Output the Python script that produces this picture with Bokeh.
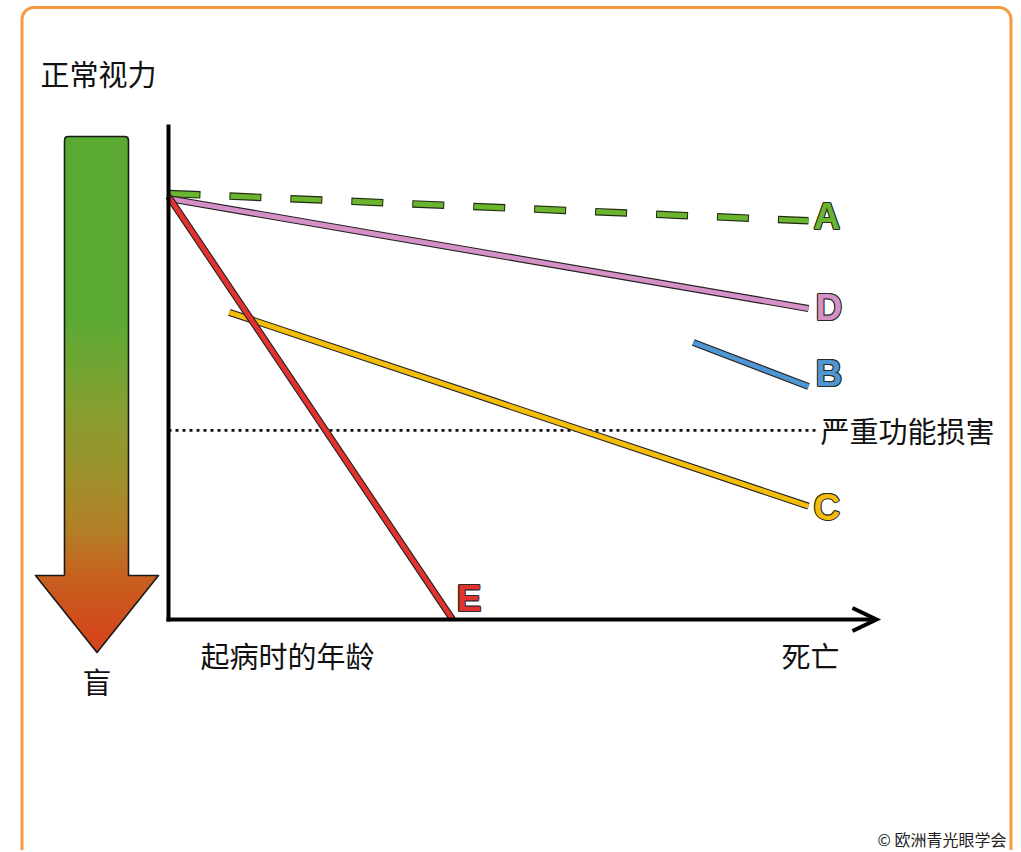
import numpy as np
from bokeh.plotting import figure
from bokeh.models import Range1d
from bokeh.core.properties import value
from bokeh.embed import file_html
from bokeh.resources import INLINE

# ---------------- data (x: 0 = onset, 100 = death; y: 0 = blind, 100 = normal vision)
series = ["A", "D", "B", "C", "E"]
x_start = [0.0, 0.0, 82.0, 9.5, 0.0]
y_start = [100.0, 98.8, 65.0, 72.1, 99.3]
x_end = [100.0, 100.0, 100.0, 100.0, 44.4]
y_end = [93.6, 73.0, 54.7, 26.6, 0.0]
series_colors = ["#6ab42e", "#d590c5", "#4e97d3", "#f4bd0a", "#e2312f"]
series_dash = ["dashed", "solid", "solid", "solid", "solid"]
severe_level = 44.4
severe_label = "严重功能损害"
x_start_label = "起病时的年龄"
x_end_label = "死亡"
top_label = "正常视力"
bottom_label = "盲"
credit = "© 欧洲青光眼学会"

# ---------------- layout helpers (screen px -> data units)
W, H = 1019, 850
OFF = 0
X0, Y0 = 168.0, 619.0
SX, SY = 6.4, 4.26


def dx(sx):
    return (sx - X0) / SX


def dy(sy):
    return (Y0 - sy) / SY


p = figure(width=W, height=H, x_range=Range1d(dx(OFF), dx(OFF + W)),
           y_range=Range1d(dy(OFF + H), dy(OFF)), output_backend="svg",
           toolbar_location=None, x_axis_location=None, y_axis_location=None,
           min_border=0, outline_line_color=None)
p.grid.visible = False

CJK = value("Noto Sans CJK SC")

# ---------------- orange rounded frame
r = 12.0
left, right, top, bottom = 21.5, 1010.5, 7.0, 900.0
pts = []
for cx, cy, a0, a1 in [(left + r, top + r, np.pi, 1.5 * np.pi),
                       (right - r, top + r, 1.5 * np.pi, 2 * np.pi)]:
    t = np.linspace(a0, a1, 12)
    pts += list(zip(cx + r * np.cos(t), cy + r * np.sin(t)))
fx = [left] + [q[0] for q in pts] + [right]
fy = [bottom] + [q[1] for q in pts] + [bottom]
p.line([dx(v) for v in fx], [dy(v) for v in fy], line_color="#f59a42", line_width=3)

# ---------------- gradient arrow
stops_y = [136, 320, 400, 470, 530, 575, 620, 652]
stops_c = ["#5aaa33", "#5aaa33", "#83a031", "#9c922c", "#b37f27", "#c7611f", "#d14d1c", "#d8431a"]


def hex2rgb(h):
    return np.array([int(h[i:i + 2], 16) for i in (1, 3, 5)], dtype=float)


stops_rgb = np.array([hex2rgb(c) for c in stops_c])


def color_at(yv):
    rgb = [np.interp(yv, stops_y, stops_rgb[:, k]) for k in range(3)]
    return "#%02x%02x%02x" % tuple(int(round(v)) for v in rgb)


sy_edges = np.arange(136, 576, 2.0)
p.quad(left=dx(64), right=dx(128),
       top=[dy(v) for v in sy_edges],
       bottom=[dy(min(v + 2.6, 575.5)) for v in sy_edges],
       fill_color=[color_at(v + 1) for v in sy_edges], line_color=None)

hx, hy, hc = [], [], []
tip_y, base_y, cxm, half = 652.0, 575.0, 96.5, 61.5
for ya in np.arange(base_y, tip_y, 2.0):
    yb = min(ya + 2.6, tip_y)
    wa = half * (tip_y - ya) / (tip_y - base_y)
    wb = half * (tip_y - yb) / (tip_y - base_y)
    hx.append([dx(cxm - wa), dx(cxm + wa), dx(cxm + wb), dx(cxm - wb)])
    hy.append([dy(ya), dy(ya), dy(yb), dy(yb)])
    hc.append(color_at(ya + 1))
p.patches(hx, hy, fill_color=hc, line_color=None)

ox = [64, 64, 64.6, 66, 68, 124, 126, 127.4, 128, 128, 158, 96.5, 35, 64]
oy = [575, 140, 137.6, 136.4, 136, 136, 136.4, 137.6, 140, 575, 575, 652, 575, 575]
p.line([dx(v) for v in ox], [dy(v) for v in oy], line_color="#1a1a1a", line_width=1.6,
       line_join="round")

# ---------------- severe impairment dotted level
p.line([0, dx(815)], [severe_level, severe_level], line_color="#111111", line_width=2.6,
       line_dash="3 4")

# ---------------- series lines with dark outline
for i, name in enumerate(series):
    xs = [x_start[i], x_end[i]]
    ys = [y_start[i], y_end[i]]
    if series_dash[i] == "dashed":
        p.line(xs, ys, line_color="#1f2a12", line_width=7.5, line_dash="32 29")
        p.line(xs, ys, line_color=series_colors[i], line_width=5.2, line_dash="30 31",
               line_dash_offset=-1)
    else:
        p.line(xs, ys, line_color="#222222", line_width=7.0)
        p.line(xs, ys, line_color=series_colors[i], line_width=4.8)

# ---------------- series labels (dark halo + coloured fill)
lab_dx = [5, 7, 7, 5, 4]        # px right of line end
lab_dy = [-4, -1, -13, 1, -21]  # px below line end (baseline)
lx = [x_end[i] + lab_dx[i] / SX for i in range(len(series))]
ly = [y_end[i] - lab_dy[i] / SY for i in range(len(series))]
for ox_, oy_ in [(-1, 0), (1, 0), (0, -1), (0, 1), (-0.8, -0.8), (0.8, 0.8), (-0.8, 0.8), (0.8, -0.8)]:
    p.text(x=[v + ox_ / SX for v in lx], y=[v - oy_ / SY for v in ly], text=series,
           text_font=value("Liberation Sans"), text_font_style="bold",
           text_font_size="37px", text_color="#2a2a2a",
           text_align="left", text_baseline="alphabetic")
p.text(x=lx, y=ly, text=series, text_font=value("Liberation Sans"), text_font_style="bold",
       text_font_size="37px", text_color=series_colors,
       text_align="left", text_baseline="alphabetic")

# ---------------- axes
p.line([0, 0], [dy(621), dy(124)], line_color="black", line_width=4)
p.line([dx(166), dx(875)], [0, 0], line_color="black", line_width=4)
p.line([dx(852), dx(876), dx(852)], [dy(607.5), 0, dy(630.5)], line_color="black",
       line_width=4, line_join="miter")

# ---------------- texts
p.text(x=[dx(40)], y=[dy(72)], text=[top_label], text_font=CJK, text_font_size="29px",
       text_color="#111111", text_align="left", text_baseline="middle")
p.text(x=[dx(96.5)], y=[dy(680)], text=[bottom_label], text_font=CJK, text_font_size="29px",
       text_color="#111111", text_align="center", text_baseline="middle")
p.text(x=[dx(200)], y=[dy(654)], text=[x_start_label], text_font=CJK, text_font_size="29px",
       text_color="#111111", text_align="left", text_baseline="middle")
p.text(x=[dx(781)], y=[dy(654)], text=[x_end_label], text_font=CJK, text_font_size="29px",
       text_color="#111111", text_align="left", text_baseline="middle")
p.text(x=[dx(820)], y=[dy(429)], text=[severe_label], text_font=CJK, text_font_size="29px",
       text_color="#111111", text_align="left", text_baseline="middle")
p.text(x=[dx(1006)], y=[dy(838)], text=[credit], text_font=CJK, text_font_size="16px",
       text_color="#222222", text_align="right", text_baseline="middle")

open("out.html", "w").write(file_html(p, INLINE))
